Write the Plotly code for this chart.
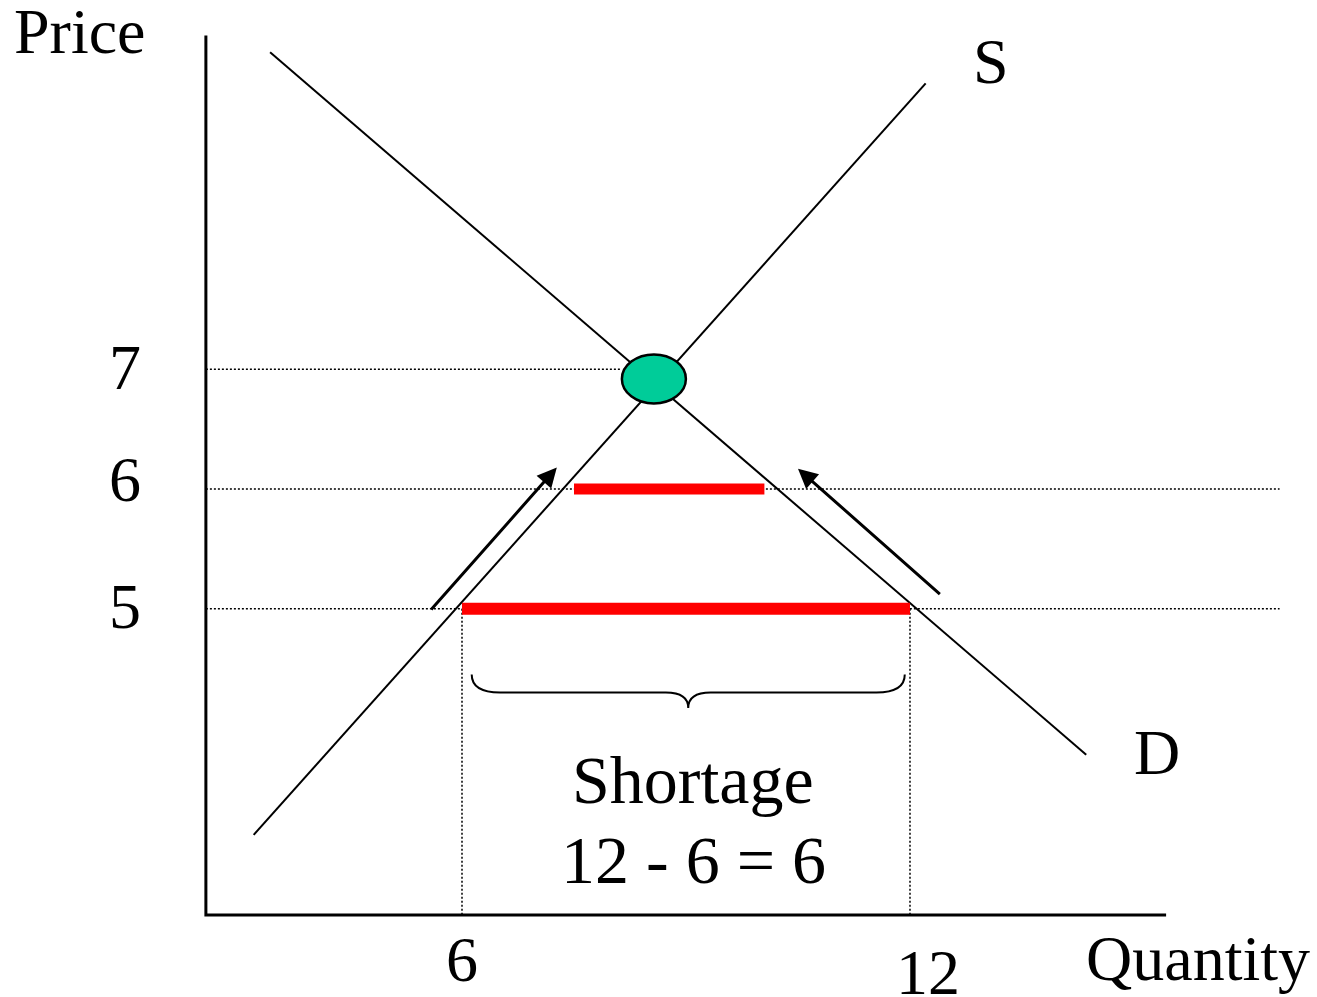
import plotly.graph_objects as go

# supply and demand curves (quantity, price)
supply_q = [3.21, 12.21]
supply_p = [3.11, 9.39]
demand_q = [3.43, 14.36]
demand_p = [9.65, 3.78]

# equilibrium point
eq_q = 8.57
eq_p = 6.92

price_levels = [5, 6, 7]
price_labels = ["5", "6", "7"]
quantity_levels = [6, 12]
quantity_labels = ["6", "12"]

# price ceiling at 5: quantity supplied vs demanded
ceiling_p = 5
ceiling_q = [6, 12]
# gap at price 6
gap_p = 6
gap_q = [7.5, 10.05]

# arrows: tail -> head
arrow_tail_q = [5.57, 12.42]
arrow_tail_p = [4.98, 5.11]
arrow_head_q = [7.27, 10.50]
arrow_head_p = [6.18, 6.17]

# axis extents
origin_q, origin_p = 2.57, 2.44
axis_top_p = 9.79
axis_right_q = 15.43
guide_end_q = 16.95
eq_guide_end_q = 8.14

# brace under the shortage
brace_left, brace_right = 6.13, 11.93
brace_top, brace_line, brace_tip = 4.45, 4.30, 4.17

W, H = 1317, 997
FONT = "Liberation Serif"

fig = go.Figure()

black = dict(color="black", width=2)
dotted = dict(color="black", width=1.5, dash="2px,2px")

# axes
fig.add_trace(go.Scatter(x=[origin_q, origin_q, axis_right_q], y=[axis_top_p, origin_p, origin_p],
                         mode="lines", line=dict(color="black", width=3)))

# dotted guides
for lvl in price_levels:
    end = eq_guide_end_q if lvl == 7 else guide_end_q
    fig.add_trace(go.Scatter(x=[origin_q, end], y=[lvl, lvl], mode="lines", line=dotted))
for q in quantity_levels:
    fig.add_trace(go.Scatter(x=[q, q], y=[ceiling_p, origin_p], mode="lines", line=dotted))

fig.add_trace(go.Scatter(x=supply_q, y=supply_p, mode="lines", line=black))
fig.add_trace(go.Scatter(x=demand_q, y=demand_p, mode="lines", line=black))

# shortage bars
fig.add_trace(go.Scatter(x=ceiling_q, y=[ceiling_p] * 2, mode="lines", line=dict(color="#ff0000", width=12)))
fig.add_trace(go.Scatter(x=gap_q, y=[gap_p] * 2, mode="lines", line=dict(color="#ff0000", width=11)))

# equilibrium ellipse
fig.add_shape(type="circle", xref="x", yref="y", xsizemode="pixel", ysizemode="pixel",
              xanchor=eq_q, yanchor=eq_p, x0=-32, x1=32, y0=-24.5, y1=24.5,
              fillcolor="rgb(0,204,153)", line=dict(color="black", width=2.5))

# brace
r, t = 0.38, 0.30
mid = (brace_left + brace_right) / 2
brace = (f"M{brace_left},{brace_top} Q{brace_left},{brace_line} {brace_left + r},{brace_line} "
         f"L{mid - t},{brace_line} Q{mid},{brace_line} {mid},{brace_tip} "
         f"Q{mid},{brace_line} {mid + t},{brace_line} L{brace_right - r},{brace_line} "
         f"Q{brace_right},{brace_line} {brace_right},{brace_top}")
fig.add_shape(type="path", xref="x", yref="y", path=brace, line=dict(color="black", width=2))

# arrows
for tq, tp, hq, hp in zip(arrow_tail_q, arrow_tail_p, arrow_head_q, arrow_head_p):
    fig.add_annotation(x=hq, y=hp, ax=tq, ay=tp, xref="x", yref="y", axref="x", ayref="y",
                       text="", showarrow=True, arrowhead=2, arrowsize=1.3, arrowwidth=3,
                       arrowcolor="black")

txt = dict(family=FONT, size=64, color="black")

# tick labels
for lvl, lab, ys in zip(price_levels, price_labels, [2, 10, 2]):
    fig.add_annotation(x=125 / W, xref="paper", y=lvl, yref="y", yshift=ys, text=lab,
                       showarrow=False, font=txt, xanchor="center", yanchor="middle")
for q, lab, py, xs in zip(quantity_levels, quantity_labels, [959, 972], [0, 18]):
    fig.add_annotation(x=q, xref="x", xshift=xs, y=1 - py / H, yref="paper", text=lab,
                       showarrow=False, font=txt, xanchor="center", yanchor="middle")

# other text
labels = [("Price", 80, 32, 64), ("S", 991, 62, 64), ("D", 1157, 752, 64),
          ("Quantity", 1198, 958, 64), ("Shortage", 693, 780, 68), ("12 - 6 = 6", 694, 860, 68)]
for s, px, py, size in labels:
    fig.add_annotation(x=px / W, y=1 - py / H, xref="paper", yref="paper", text=s,
                       showarrow=False, font=dict(family=FONT, size=size, color="black"),
                       xanchor="center", yanchor="middle")

fig.update_layout(
    width=W, height=H, margin=dict(l=0, r=0, t=0, b=0),
    paper_bgcolor="white", plot_bgcolor="white", showlegend=False,
    xaxis=dict(range=[-0.1875, 17.451], visible=False, fixedrange=True),
    yaxis=dict(range=[1.7546, 10.087], visible=False, fixedrange=True),
)

fig.write_html("out.html", config={"displayModeBar": False},
               post_script="document.body.style.margin='0';document.body.style.overflow='hidden';")
